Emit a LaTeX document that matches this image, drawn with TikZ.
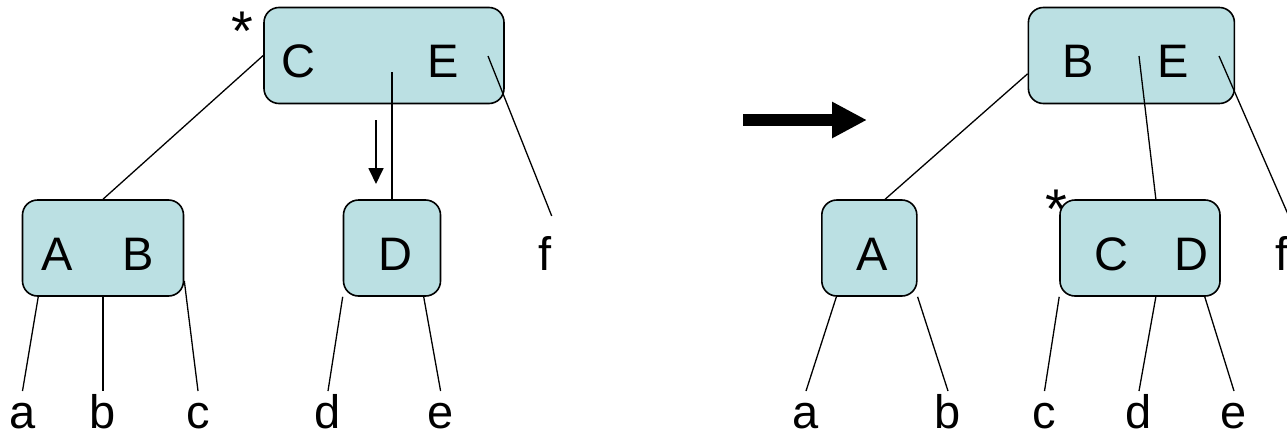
\documentclass[tikz,border=0pt]{standalone}
\usepackage{fontspec}
\setmainfont{Liberation Sans}
\usepackage{xcolor}
\usetikzlibrary{arrows.meta,calc}
\definecolor{keyfill}{HTML}{BBE0E3}
\tikzset{
  keybox/.style={draw,line width=1.6pt,fill=keyfill,rounded corners=15pt,inner sep=0pt,minimum height=96pt},
  keylabel/.style={anchor=base,inner sep=0pt,font=\fontsize{47}{56}\selectfont},
  leaflabel/.style={anchor=base,inner sep=0pt,text height=34pt,text depth=0pt,outer ysep=3pt,font=\fontsize{47}{56}\selectfont},
  starlabel/.style={anchor=north,inner sep=0pt,font=\fontsize{56}{64}\selectfont},
  thinline/.style={line width=1.3pt},
  thickline/.style={line width=2.2pt}
}

\begin{document}
\begin{tikzpicture}[x=1pt,y=-1pt]
        \useasboundingbox (0,0) rectangle (1287,434);
        % before
        \node[keybox,minimum width=240pt] (CE) at (384,55.5) {};
        \node[keybox,minimum width=161pt] (AB) at (103,248) {};
        \node[keybox,minimum width=97pt] (D) at (392,248) {};
        \node[keylabel] (kC) at (298.5,77) {C};
        \node[keylabel] (kE) at (443,77) {E};
        \node[keylabel] (kA) at (57.5,270) {A};
        \node[keylabel] (kB) at (138,270) {B};
        \node[keylabel] (kD) at (395.5,270) {D};
        \node[starlabel] (s1) at (242.5,12) {*};
        \node[leaflabel] (a1) at (22.5,428) {a};
        \node[leaflabel] (b1) at (103,428) {b};
        \node[leaflabel] (c1) at (198,428) {c};
        \node[leaflabel] (d1) at (328,428) {d};
        \node[leaflabel] (e1) at (440.6,428) {e};
        \node[leaflabel,outer ysep=20pt] (f1) at (545,270) {f};
        \coordinate (CEd) at (392,72);
        \coordinate (CEf) at (488,56);
        \draw[thinline] (CE.west) -- (AB.north);
        \draw[thickline] (CEd) -- (D.north);
        \draw[thinline] (CEf) -- (f1.north east);
        \draw[thinline] (AB.217) -- (a1.north);
        \draw[thickline] (AB.south) -- (b1.north);
        \draw[thinline] (AB.-22) -- (c1.north);
        \draw[thinline] (D.south west) -- (d1.north);
        \draw[thinline] (D.-57) -- (e1.north);
        \coordinate (dn1) at (376,120);
        \coordinate (dn2) at (376,184);
        \draw[-{Triangle[length=16pt,width=15pt]},line width=1.8pt] (dn1) -- (dn2);
        % step
        \coordinate (go1) at (743,120);
        \coordinate (go2) at (867,120);
        \draw[-{Triangle[length=35pt,width=34pt]},line width=12pt] (go1) -- (go2);
        % after
        \node[keybox,minimum width=206pt] (BE) at (1131.4,55.5) {};
        \node[keybox,minimum width=95pt] (A) at (869.3,248) {};
        \node[keybox,minimum width=160pt] (CD) at (1140,248) {};
        \node[keylabel] (kB2) at (1078.5,77) {B};
        \node[keylabel] (kE2) at (1173.2,77) {E};
        \node[keylabel] (kA2) at (871.8,270) {A};
        \node[keylabel] (kC2) at (1111.5,270) {C};
        \node[keylabel] (kD2) at (1191.2,270) {D};
        \node[starlabel] (s2) at (1056,190) {*};
        \node[leaflabel] (a2) at (806,428) {a};
        \node[leaflabel] (b2) at (948,428) {b};
        \node[leaflabel] (c2) at (1044.5,428) {c};
        \node[leaflabel] (d2) at (1139,428) {d};
        \node[leaflabel] (e2) at (1234,428) {e};
        \node[leaflabel,outer ysep=20pt] (f2) at (1282,270) {f};
        \coordinate (BEc) at (1139,56);
        \coordinate (BEf) at (1219,56);
        \draw[thinline] (BE.190) -- (A.72);
        \draw[thinline] (BEc) -- (CD.72);
        \draw[thinline] (BEf) -- (f2.north east);
        \draw[thinline] (A.236) -- (a2.north);
        \draw[thinline] (A.south east) -- (b2.north);
        \draw[thinline] (CD.south west) -- (c2.north);
        \draw[thinline] (CD.-72) -- (d2.north);
        \draw[thinline] (CD.-37) -- (e2.north);
    \end{tikzpicture}
\end{document}
